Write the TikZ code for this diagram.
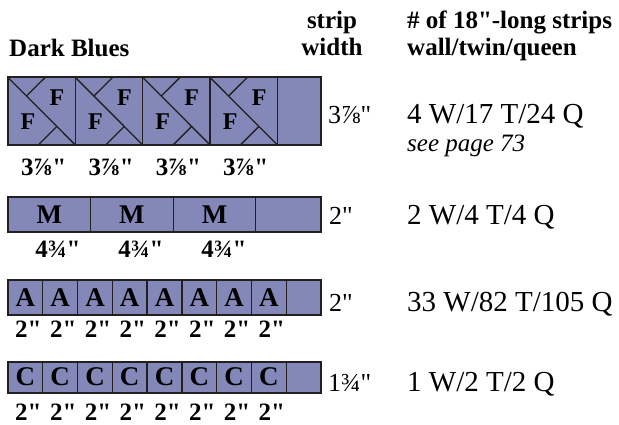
\documentclass[tikz,border=0pt]{standalone}
\usepackage{fontspec}
\setmainfont{Liberation Serif}[Ligatures=TeXOff]
\begin{document}
\begin{tikzpicture}[x=1pt,y=-1pt,
  head/.style={inner sep=0pt,font=\fontsize{25}{25}\selectfont\bfseries},
  tri/.style={inner sep=0pt,font=\fontsize{24}{24}\selectfont\bfseries},
  cell/.style={inner sep=0pt,font=\fontsize{27}{27}\selectfont\bfseries},
  lbl/.style={inner sep=0pt,anchor=base,font=\fontsize{25}{25}\selectfont\bfseries},
  wid/.style={inner sep=0pt,anchor=base west,font=\fontsize{26}{26}\selectfont},
  txt/.style={inner sep=0pt,anchor=base west,font=\fontsize{29}{29}\selectfont}]
\definecolor{color1}{RGB}{131,136,184}
\definecolor{color2}{RGB}{35,31,32}
\useasboundingbox (0,0) rectangle (619,425);
% headings
\node[head,anchor=base west] (title) at (9,57) {Dark Blues};
\node[head,anchor=base] (hstrip) at (332,29) {strip};
\node[head,anchor=base] (hwidth) at (332,56) {width};
\node[head,anchor=base west] (hcount) at (407,29) {\# of 18"-long strips};
\node[head,anchor=base west] (hsize) at (407,56) {wall/twin/queen};
% strip F
\coordinate[] (A1) at (8,77.5);
\coordinate[] (A2) at (321,145);
\draw[line width=2pt,color=color2,fill=color1] (A1) rectangle (A2);
\draw[line width=1.3pt,color=color2] (75.4,77.5)--(75.4,145) (142.8,77.5)--(142.8,145) (210.1,77.5)--(210.1,145) (277.5,77.5)--(277.5,145);
\draw[line width=1.3pt,color=color2] (8,77.5)--(75.4,145) (45.1,77.5)--(26.5,96) (38.3,145)--(56.9,126.4);
\draw[line width=1.3pt,color=color2] (75.4,77.5)--(142.8,145) (112.5,77.5)--(93.9,96) (105.7,145)--(124.3,126.4);
\draw[line width=1.3pt,color=color2] (142.8,77.5)--(210.1,145) (179.9,77.5)--(161.3,96) (173.1,145)--(191.7,126.4);
\draw[line width=1.3pt,color=color2] (210.1,77.5)--(277.5,145) (247.2,77.5)--(228.6,96) (240.4,145)--(259,126.4);
\node[tri] (f1a) at (57,98) {F};
\node[tri] (f1b) at (28,122) {F};
\node[tri] (f2a) at (124.4,98) {F};
\node[tri] (f2b) at (95.4,122) {F};
\node[tri] (f3a) at (191.8,98) {F};
\node[tri] (f3b) at (162.8,122) {F};
\node[tri] (f4a) at (259.1,98) {F};
\node[tri] (f4b) at (230.1,122) {F};
\node[lbl] (l1a) at (43.7,176) {3⅞"};
\node[lbl] (l1b) at (111.1,176) {3⅞"};
\node[lbl] (l1c) at (178.5,176) {3⅞"};
\node[lbl] (l1d) at (245.8,176) {3⅞"};
\node[wid] (w1) at (328,124) {3⅞"};
\node[txt] (q1) at (407,124) {4 W/17 T/24 Q};
\node[txt,font=\fontsize{25}{25}\selectfont\itshape] (note) at (407,152) {see page 73};
% strip M
\coordinate[] (B1) at (8,197);
\coordinate[] (B2) at (321,232);
\draw[line width=2pt,color=color2,fill=color1] (B1) rectangle (B2);
\draw[line width=1.3pt,color=color2] (90.6,197)--(90.6,232) (173.2,197)--(173.2,232) (255.8,197)--(255.8,232);
\node[cell] (m1) at (49.3,214.5) {M};
\node[cell] (m2) at (131.9,214.5) {M};
\node[cell] (m3) at (214.5,214.5) {M};
\node[lbl] (l2a) at (58,258) {4¾"};
\node[lbl] (l2b) at (141,258) {4¾"};
\node[lbl] (l2c) at (224,258) {4¾"};
\node[wid] (w2) at (329,225) {2"};
\node[txt] (q2) at (407,225) {2 W/4 T/4 Q};
% strip A
\coordinate[] (C1) at (8,280);
\coordinate[] (C2) at (321,315);
\draw[line width=2pt,color=color2,fill=color1] (C1) rectangle (C2);
\draw[line width=1.3pt,color=color2] (42.8,280)--(42.8,315) (77.6,280)--(77.6,315) (112.3,280)--(112.3,315) (147.1,280)--(147.1,315) (181.9,280)--(181.9,315) (216.7,280)--(216.7,315) (251.4,280)--(251.4,315) (286.2,280)--(286.2,315);
\node[cell] (a1) at (25.4,297.5) {A};
\node[cell] (a2) at (60.2,297.5) {A};
\node[cell] (a3) at (95,297.5) {A};
\node[cell] (a4) at (129.7,297.5) {A};
\node[cell] (a5) at (164.5,297.5) {A};
\node[cell] (a6) at (199.3,297.5) {A};
\node[cell] (a7) at (234,297.5) {A};
\node[cell] (a8) at (268.8,297.5) {A};
\node[lbl] (l3a) at (28.4,337) {2"};
\node[lbl] (l3b) at (63.2,337) {2"};
\node[lbl] (l3c) at (98,337) {2"};
\node[lbl] (l3d) at (132.7,337) {2"};
\node[lbl] (l3e) at (167.5,337) {2"};
\node[lbl] (l3f) at (202.3,337) {2"};
\node[lbl] (l3g) at (237,337) {2"};
\node[lbl] (l3h) at (271.8,337) {2"};
\node[wid] (w3) at (329,311) {2"};
\node[txt] (q3) at (407,311) {33 W/82 T/105 Q};
% strip C
\coordinate[] (D1) at (8,362);
\coordinate[] (D2) at (321,392.5);
\draw[line width=2pt,color=color2,fill=color1] (D1) rectangle (D2);
\draw[line width=1.3pt,color=color2] (42.8,362)--(42.8,392.5) (77.6,362)--(77.6,392.5) (112.3,362)--(112.3,392.5) (147.1,362)--(147.1,392.5) (181.9,362)--(181.9,392.5) (216.7,362)--(216.7,392.5) (251.4,362)--(251.4,392.5) (286.2,362)--(286.2,392.5);
\node[cell] (c1) at (25.4,377) {C};
\node[cell] (c2) at (60.2,377) {C};
\node[cell] (c3) at (95,377) {C};
\node[cell] (c4) at (129.7,377) {C};
\node[cell] (c5) at (164.5,377) {C};
\node[cell] (c6) at (199.3,377) {C};
\node[cell] (c7) at (234,377) {C};
\node[cell] (c8) at (268.8,377) {C};
\node[lbl] (l4a) at (28.4,420) {2"};
\node[lbl] (l4b) at (63.2,420) {2"};
\node[lbl] (l4c) at (98,420) {2"};
\node[lbl] (l4d) at (132.7,420) {2"};
\node[lbl] (l4e) at (167.5,420) {2"};
\node[lbl] (l4f) at (202.3,420) {2"};
\node[lbl] (l4g) at (237,420) {2"};
\node[lbl] (l4h) at (271.8,420) {2"};
\node[wid] (w4) at (328,391) {1¾"};
\node[txt] (q4) at (407,391) {1 W/2 T/2 Q};
\end{tikzpicture}
\end{document}
